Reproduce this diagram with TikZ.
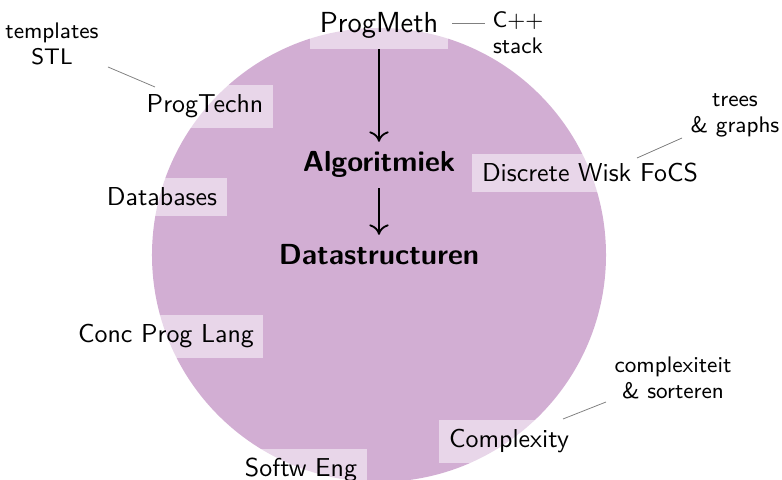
\documentclass[tikz,border=0pt]{standalone}
\usepackage{fontspec}
\usetikzlibrary{arrows.meta}
\definecolor{circfill}{RGB}{210,174,211}
\definecolor{linkgray}{RGB}{128,128,128}
\begin{document}
\begin{tikzpicture}[x=0.3861pt,y=-0.3861pt, font=\sffamily,
  lab/.style={fill=white, fill opacity=0.5, text opacity=1, inner sep=3.7pt, anchor=base},
  big/.style={font=\sffamily\fontsize{11.2}{13}\selectfont},
  core/.style={anchor=base, font=\sffamily\bfseries\fontsize{11.2}{13}\selectfont, inner sep=3.7pt},
  note/.style={align=center, font=\sffamily\fontsize{8.7}{10}\selectfont, inner sep=0pt},
  link/.style={draw=linkgray, line width=0.3pt},
  arr/.style={-{Computer Modern Rightarrow[length=4pt,width=7.5pt]}, line width=0.7pt}]
\useasboundingbox (0,0) rectangle (782,480);
\fill[circfill] (379,255) circle [radius=87.65pt];
% course labels
\node[lab,big] (pm) at (379,33) {ProgMeth};
\node[lab] (pt) at (205,113) {ProgTechn};
\node[lab] (db) at (162,206) {Databases};
\node[lab] (dw) at (590,182) {Discrete Wisk FoCS};
\node[lab] (cp) at (166,343) {Conc Prog Lang};
\node[lab] (se) at (301,477) {Softw Eng};
\node[lab] (cx) at (509,448) {Complexity};
% core
\node[core] (alg) at (379,172) {Algoritmiek};
\node[core] (ds) at (379,265) {Datastructuren};
\draw[arr] (pm) -- (alg);
\draw[arr] (alg) -- (ds);
% notes
\node[note] (n1) at (518,33) {C++\\stack};
\node[note] (n2) at (52,44) {templates\\STL};
\node[note] (n3) at (735,115) {trees\\\& graphs};
\node[note] (n4) at (673,378) {complexiteit\\\& sorteren};
\coordinate (l1a) at (452,23); \coordinate (l1b) at (485,23);
\coordinate (l2a) at (108,67); \coordinate (l2b) at (155,87);
\coordinate (l3a) at (637,158); \coordinate (l3b) at (682,138);
\coordinate (l4a) at (563,419); \coordinate (l4b) at (606,402);
\draw[link] (l1a) -- (l1b);
\draw[link] (l2a) -- (l2b);
\draw[link] (l3a) -- (l3b);
\draw[link] (l4a) -- (l4b);
\end{tikzpicture}
\end{document}
